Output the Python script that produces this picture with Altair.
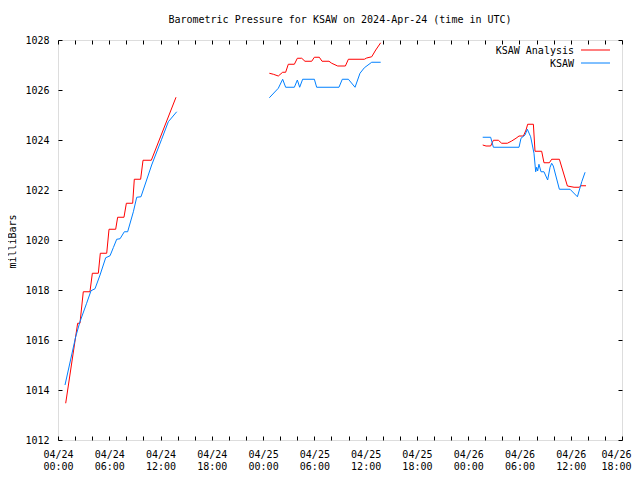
import altair as alt
import pandas as pd

# hours since 2024-04-24 00:00 UTC, pressure in mbar
analysis_hours = [0.90, 2.30, 2.57, 2.96, 3.74, 4.02, 4.72, 4.95, 5.70, 5.97, 6.75, 6.98, 7.72, 8.00, 8.74, 8.93, 9.67, 9.95, 10.92, 13.81,
                  24.73, 25.20, 25.78, 26.29, 26.64, 26.95, 27.66, 28.01, 28.52, 28.90, 29.69, 30.00, 30.58, 30.90, 31.71, 32.03, 32.73, 33.63, 33.98, 35.85, 36.12, 36.71, 37.18, 37.76,
                  49.70, 50.09, 50.63, 50.95, 51.53, 51.92, 52.58, 53.09, 53.60, 53.95, 54.46, 54.77, 54.96, 55.63, 55.82, 56.60, 56.87, 57.50, 57.77, 58.67, 59.61, 60.39, 61.02, 61.17, 61.79]
analysis_mb = [1013.47, 1016.67, 1016.67, 1017.93, 1017.93, 1018.67, 1018.67, 1019.47, 1019.47, 1020.43, 1020.43, 1020.91, 1020.91, 1021.47, 1021.47, 1022.43, 1022.43, 1023.19, 1023.19, 1025.71,
               1026.67, 1026.63, 1026.56, 1026.71, 1026.71, 1027.03, 1027.03, 1027.27, 1027.27, 1027.15, 1027.15, 1027.31, 1027.31, 1027.15, 1027.15, 1027.07, 1026.96, 1026.96, 1027.23, 1027.23, 1027.28, 1027.33, 1027.60, 1027.89,
               1023.80, 1023.76, 1023.76, 1023.99, 1023.99, 1023.87, 1023.87, 1023.96, 1024.07, 1024.16, 1024.16, 1024.40, 1024.63, 1024.63, 1023.55, 1023.55, 1023.09, 1023.09, 1023.23, 1023.23, 1022.16, 1022.11, 1022.11, 1022.17, 1022.17]
analysis_seg = [1] * 20 + [2] * 24 + [3] * 25

obs_hours = [0.82, 2.07, 2.57, 3.35, 3.86, 4.33, 4.92, 5.58, 6.09, 6.48, 6.87, 7.26, 7.76, 8.15, 8.82, 9.21, 9.71, 10.96, 12.13, 12.91, 13.89,
             24.73, 25.78, 26.29, 26.64, 27.66, 28.01, 28.28, 28.63, 30.00, 30.27, 32.88, 33.27, 33.98, 34.76, 35.34, 35.85, 36.71, 37.76,
             49.70, 50.63, 50.95, 53.95, 54.18, 54.65, 54.92, 55.31, 55.70, 55.90, 56.01, 56.13, 56.28, 56.52, 56.87, 57.30, 57.58, 57.77, 57.96, 58.67, 59.92, 60.78, 61.29, 61.68]
obs_mb = [1014.20, 1016.13, 1016.73, 1017.47, 1017.97, 1018.05, 1018.60, 1019.29, 1019.37, 1019.70, 1020.03, 1020.05, 1020.33, 1020.33, 1021.13, 1021.71, 1021.73, 1023.00, 1024.03, 1024.73, 1025.13,
          1025.69, 1026.07, 1026.43, 1026.11, 1026.11, 1026.40, 1026.11, 1026.43, 1026.43, 1026.11, 1026.11, 1026.43, 1026.43, 1026.11, 1026.67, 1026.89, 1027.11, 1027.11,
          1024.11, 1024.11, 1023.71, 1023.71, 1024.07, 1024.20, 1024.43, 1024.13, 1023.47, 1022.73, 1022.91, 1022.76, 1023.03, 1022.73, 1022.73, 1022.40, 1022.91, 1023.07, 1022.96, 1022.03, 1022.03, 1021.73, 1022.33, 1022.71]
obs_seg = [1] * 21 + [2] * 18 + [3] * 24

series_names = ["KSAW Analysis", "KSAW"]
series_colors = ["#ff0000", "#0080ff"]

x_domain = [0, 66]
y_domain = [1012, 1028]
minor_x = list(range(0, 67, 2))
major_x = list(range(0, 67, 6))
y_ticks = list(range(1012, 1029, 2))

W, H = 564, 400
FONT = "DejaVu Sans Mono"

df_a = pd.DataFrame({"h": analysis_hours, "p": analysis_mb, "seg": analysis_seg, "ord": range(len(analysis_hours))})
df_o = pd.DataFrame({"h": obs_hours, "p": obs_mb, "seg": obs_seg, "ord": range(len(obs_hours))})

xs = alt.Scale(domain=x_domain, nice=False, zero=False)
ys = alt.Scale(domain=y_domain, nice=False, zero=False)

label_expr = ("['04/' + (24 + floor(datum.value / 24)), "
              "(datum.value % 24 < 10 ? '0' : '') + (datum.value % 24) + ':00']")

# layer 1: red line, label axes
red = alt.Chart(df_a).mark_line(color=series_colors[0], strokeWidth=1, interpolate="linear").encode(
    x=alt.X("h:Q", scale=xs, axis=alt.Axis(orient="bottom", values=major_x, labelExpr=label_expr,
                                            ticks=False, domain=False, grid=False, title=None,
                                            labelFont=FONT, labelFontSize=10, labelColor="black",
                                            labelPadding=9, labelLineHeight=12, labelBaseline="top",
                                            labelOffset={"condition": {"test": "datum.value >= 66", "value": -6}, "value": 0},
                                            labelFlush=False, labelOverlap=False)),
    y=alt.Y("p:Q", scale=ys, axis=alt.Axis(orient="left", values=y_ticks, format="d",
                                            ticks=False, domain=False, grid=False, title="milliBars",
                                            labelFont=FONT, labelFontSize=10, labelColor="black",
                                            labelPadding=9, titleFont=FONT, titleFontSize=10,
                                            titleFontWeight="normal", titleColor="black",
                                            titleAngle=-90, titleX=-46, titleY=201,
                                            titleAlign="center", titleBaseline="middle")),
    detail="seg:N",
    order="ord:Q",
)

# layer 2: blue line, inward ticks on bottom and left
blue = alt.Chart(df_o).mark_line(color=series_colors[1], strokeWidth=1, interpolate="linear").encode(
    x=alt.X("h:Q", scale=xs, axis=alt.Axis(orient="top", offset=-H, values=minor_x, labels=False,
                                            domain=False, grid=False, title=None, ticks=True,
                                            tickSize=4, tickColor="black", tickWidth=1)),
    y=alt.Y("p:Q", scale=ys, axis=alt.Axis(orient="right", offset=-W, values=y_ticks, labels=False,
                                            domain=False, grid=False, title=None, ticks=True,
                                            tickSize=4, tickColor="black", tickWidth=1)),
    detail="seg:N",
    order="ord:Q",
)

# layer 3: invisible points, inward ticks on top and right
ghost = alt.Chart(df_o).mark_point(opacity=0).encode(
    x=alt.X("h:Q", scale=xs, axis=alt.Axis(orient="bottom", offset=-H, values=minor_x, labels=False,
                                            domain=False, grid=False, title=None, ticks=True,
                                            tickSize=4, tickColor="black", tickWidth=1)),
    y=alt.Y("p:Q", scale=ys, axis=alt.Axis(orient="left", offset=-W, values=y_ticks, labels=False,
                                            domain=False, grid=False, title=None, ticks=True,
                                            tickSize=4, tickColor="black", tickWidth=1)),
)

# legend
legend_layers = []
for i, (name, col) in enumerate(zip(series_names, series_colors)):
    ypos = 10.5 + i * 13
    legend_layers.append(
        alt.Chart(pd.DataFrame({"name": [name]})).mark_text(
            align="right", baseline="middle", font=FONT, fontSize=10, color="black"
        ).encode(text="name:N", x=alt.value(516), y=alt.value(ypos))
    )
    legend_layers.append(
        alt.Chart(pd.DataFrame({"name": [name]})).mark_rule(color=col, strokeWidth=1).encode(
            x=alt.value(523), x2=alt.value(552), y=alt.value(ypos - 0.5)
        )
    )

chart = alt.layer(red, blue, ghost, *legend_layers).resolve_axis(
    x="independent", y="independent"
).properties(
    width=W,
    height=H,
    title=alt.TitleParams("Barometric Pressure for KSAW on 2024-Apr-24 (time in UTC)",
                          font=FONT, fontSize=10, fontWeight="normal", color="black",
                          anchor="middle", offset=10),
    padding={"left": 50, "top": 32, "right": 10, "bottom": 30},
    autosize=alt.AutoSizeParams(type="none"),
).configure_view(stroke="black", strokeWidth=1).configure(background="white")

chart.save("out.html", embed_options={"renderer": "svg", "actions": False})
